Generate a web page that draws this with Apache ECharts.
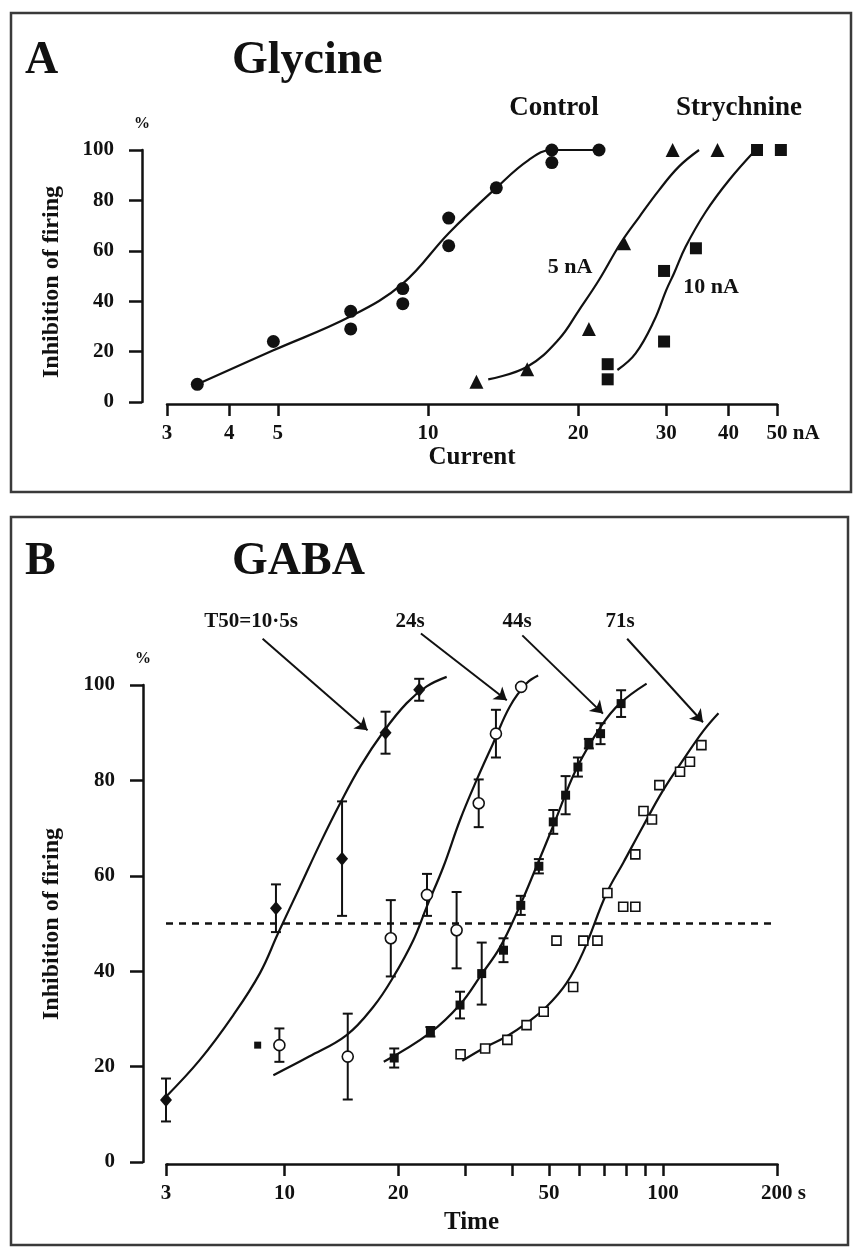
<!DOCTYPE html>
<html>
<head>
<meta charset="utf-8">
<style>
  html, body { margin: 0; padding: 0; background: #fff; }
  #chart { width: 855px; height: 1252px; }
</style>
<script src="https://cdn.jsdelivr.net/npm/echarts@6.0.0/dist/echarts.min.js"></script>
</head>
<body>
<div id="chart"></div>
<script>
const lg = Math.log10
const ink = '#111'
const serif = '"Liberation Serif", "Times New Roman", serif'

// ---- panel A: glycine, % inhibition vs ejecting current (nA) ----
const glyTicks = [3, 4, 5, 10, 20, 30, 40, 50]
const glyTickLabels = ['3', '4', '5', '10', '20', '30', '40', '50']
const controlPts = [[3.45, 7], [4.9, 24], [7, 36], [7, 29], [8.9, 45], [8.9, 39], [11, 73], [11, 62], [13.7, 85], [17.7, 100], [17.7, 95], [22, 100]]
const controlCurve = [[3.45, 7], [4.9, 20.5], [7, 34], [8.9, 47], [11, 67], [13.7, 85], [15.9, 96], [17.7, 100], [22, 100]]
const stry5Pts = [[12.5, 8], [15.8, 13], [21, 29], [24.7, 63], [30.9, 100], [38, 100]]
const stry5Curve = [[13.2, 9], [15.8, 14], [18.3, 25], [20.07, 36.5], [22, 48.4], [24.3, 63], [26.5, 73.5], [29, 84], [31.8, 93.4], [34.9, 100]]
const stry10Pts = [[22.9, 15], [22.9, 9], [29.7, 52], [29.7, 24], [34.4, 61], [45.6, 100], [50.9, 100]]
const stry10Curve = [[23.95, 12.7], [26.05, 19.3], [28.4, 32.5], [30, 44.4], [31.1, 51.1], [32.8, 61.6], [36, 75.5], [40.1, 88.1], [45.3, 100]]

// ---- panel B: GABA, % inhibition vs time (s); [t, mean, sem] ----
const gabaTicks = [3, 10, 20, 30, 40, 50, 60, 70, 80, 90, 100, 200]
const gabaLabelVals = [3, 10, 20, 50, 100, 200]
const gabaLabels = ['3', '10', '20', '50', '100', '200']
const gaba1Pts = [[3, 13, 4.5], [9.5, 53.2, 5], [14.2, 63.6, 12], [18.5, 90, 4.4], [22.7, 99, 2.3]]
const gaba1Curve = [[3, 13.7], [5.98, 21.4], [7.33, 30.8], [8.62, 39.6], [9.63, 48], [10.99, 57.7], [12.43, 66.8], [14.04, 75.2], [15.86, 82.9], [18.26, 90.2], [21.04, 96.2], [23.76, 99.7], [26.83, 101.7]]
const gaba2Pts = [[9.7, 24.5, 3.5], [14.7, 22.1, 9], [19.1, 46.9, 8], [23.8, 56, 4.4], [28.5, 48.6, 8], [32.6, 75.2, 5], [36.2, 89.8, 5], [42.2, 99.6, 0]]
const gaba2Curve = [[9.35, 18.2], [11.62, 22.1], [14.6, 26.6], [17.2, 32.6], [19.4, 38.8], [21.9, 46.5], [23.76, 53.5], [26.3, 61.9], [29.1, 71.7], [32.2, 80.1], [35.6, 87.8], [39.4, 95.5], [43.7, 100.4], [46.8, 102]]
const gaba3Pts = [[19.5, 21.8, 2], [24.3, 27.3, 1], [29.1, 32.9, 2.8], [33.2, 39.5, 6.5], [37.9, 44.4, 2.5], [42.1, 53.8, 2], [47, 62, 1.5], [51.3, 71.3, 2.5], [55.3, 76.9, 4], [59.6, 82.8, 2], [63.7, 87.7, 1], [68.4, 89.8, 2.2], [77.5, 96.1, 2.8]]
const gaba3Curve = [[18.3, 21], [24.2, 27], [29.1, 33], [33.2, 39.4], [37.1, 45], [41.5, 53], [46.3, 61.9], [51.3, 70.5], [59.1, 82.5], [68.8, 91.5], [77.1, 96.2], [90.5, 100.3]]
const gaba4Pts = [[29.2, 22.6], [33.9, 23.8], [38.8, 25.6], [43.6, 28.7], [48.4, 31.5], [57.9, 36.7], [52.3, 46.4], [61.6, 46.4], [67.1, 46.4], [71.3, 56.4], [78.5, 53.5], [84.5, 53.5], [84.5, 64.5], [88.8, 73.6], [93.5, 71.8], [97.8, 79], [110.9, 81.8], [117.8, 83.9], [126.3, 87.4]]
const gaba4Curve = [[29.5, 21.2], [34.2, 24.2], [38.6, 26.3], [43.6, 29.1], [49.3, 32.6], [55.6, 37.5], [61.5, 44], [70.9, 56.3], [78.6, 62.8], [88.7, 70.5], [100.2, 78], [113.5, 84.5], [127.8, 90.4], [140.1, 94.1]]
const strayPt = [[8.5, 24.5]]
// arrows from the T50 labels: [t0, p0, t1, p1]
const t50Arrows = [[8.76, 109.7, 16.58, 90.5], [22.94, 110.8, 38.67, 96.8], [42.5, 110.4, 69.4, 94], [80.4, 109.7, 127.5, 92.2]]

const font = (size) => `bold ${size}px ${serif}`

function tickFormatter(vals, labels, unit) {
  return (v) => {
    const i = vals.findIndex((t) => Math.abs(lg(t) - v) < 1e-6)
    if (i < 0) return ''
    if (i === vals.length - 1) return `{pad| }${labels[i]}{u| ${unit}}`
    return labels[i]
  }
}

function xAxisGene(gridIndex, ticks, labelVals, labels, unit, padW, extra) {
  return {
    type: 'value',
    gridIndex,
    min: lg(ticks[0]) - 1e-9,
    max: lg(ticks[ticks.length - 1]) + 1e-9,
    offset: 2,
    axisLine: { show: true, onZero: false, lineStyle: { color: ink, width: 2.5 } },
    axisTick: { show: true, customValues: ticks.map(lg), length: 12, lineStyle: { color: ink, width: 2.5 } },
    axisLabel: {
      customValues: labelVals.map(lg),
      formatter: tickFormatter(labelVals, labels, unit),
      margin: 19,
      color: ink,
      fontFamily: serif,
      fontWeight: 'bold',
      fontSize: 21,
      rich: {
        pad: { width: padW },
        u: { fontFamily: serif, fontWeight: 'bold', fontSize: 21, color: ink },
      },
    },
    splitLine: { show: false },
    nameLocation: 'middle',
    nameTextStyle: { color: ink, fontFamily: serif, fontWeight: 'bold', fontSize: 25 },
    ...extra,
  }
}

function yAxisGene(gridIndex, offset) {
  return {
    type: 'value',
    gridIndex,
    min: 0,
    max: 100,
    interval: 20,
    offset,
    name: '%',
    nameLocation: 'end',
    nameGap: 18,
    nameTextStyle: { color: ink, fontFamily: serif, fontWeight: 'bold', fontSize: 16, align: 'center', verticalAlign: 'bottom' },
    axisLine: { show: true, onZero: false, lineStyle: { color: ink, width: 2.5 } },
    axisTick: { show: true, length: 13, lineStyle: { color: ink, width: 2.5 } },
    axisLabel: { margin: 28, color: ink, fontFamily: serif, fontWeight: 'bold', fontSize: 21 },
    splitLine: { show: false },
  }
}

function curve(points, idx) {
  return {
    type: 'line',
    xAxisIndex: idx,
    yAxisIndex: idx,
    data: points.map((p) => [lg(p[0]), p[1]]),
    smooth: 0.4,
    showSymbol: false,
    symbol: 'none',
    clip: false,
    silent: true,
    z: 2,
    lineStyle: { color: ink, width: 2.2, opacity: 1 },
  }
}

function dots(points, idx, symbol, size, filled) {
  return {
    type: 'scatter',
    xAxisIndex: idx,
    yAxisIndex: idx,
    symbol,
    symbolSize: size,
    clip: false,
    silent: true,
    z: 4,
    itemStyle: filled
      ? { color: ink, opacity: 1 }
      : { color: '#fff', borderColor: ink, borderWidth: 1.6, opacity: 1 },
    data: points.map((p) => [lg(p[0]), p[1]]),
  }
}

function errorBars(points, idx) {
  return {
    type: 'custom',
    xAxisIndex: idx,
    yAxisIndex: idx,
    silent: true,
    clip: false,
    z: 3,
    encode: { x: 0, y: [1, 2] },
    data: points.filter((p) => p[2] > 0).map(([t, m, e]) => [lg(t), m - e, m + e]),
    renderItem: (params, api) => {
      const lo = api.coord([api.value(0), api.value(1)])
      const hi = api.coord([api.value(0), api.value(2)])
      const cap = 5
      const style = { stroke: ink, lineWidth: 2 }
      return {
        type: 'group',
        children: [
          { type: 'line', shape: { x1: lo[0], y1: lo[1], x2: hi[0], y2: hi[1] }, style },
          { type: 'line', shape: { x1: lo[0] - cap, y1: lo[1], x2: lo[0] + cap, y2: lo[1] }, style },
          { type: 'line', shape: { x1: hi[0] - cap, y1: hi[1], x2: hi[0] + cap, y2: hi[1] }, style },
        ],
      }
    },
  }
}

function text(str, x, y, size, align = 'left', rotation = 0) {
  return {
    type: 'text',
    x,
    y,
    rotation,
    silent: true,
    style: { text: str, font: font(size), fill: ink, textAlign: align, textVerticalAlign: 'middle' },
  }
}

function frame(x, y, w, h) {
  return {
    type: 'rect',
    silent: true,
    shape: { x, y, width: w, height: h },
    style: { fill: 'none', stroke: '#3a3a3a', lineWidth: 2.5 },
  }
}

const myChart = echarts.init(document.getElementById('chart'), null, { renderer: 'canvas' })

const gabaX = xAxisGene(1, gabaTicks, gabaLabelVals, gabaLabels, 's', 13, {
  name: 'Time',
  nameGap: 46,
  // the time axis jumps from the "3" tick straight on to the log decade
  breaks: [{ start: lg(3.02), end: lg(4.9), gap: 0 }],
  breakArea: { show: false, itemStyle: { opacity: 0, borderWidth: 0 } },
})

const option = {
  animation: false,
  backgroundColor: '#fff',
  grid: [
    { left: 167, top: 150, width: 610, height: 252, outerBoundsMode: 'none' },
    { left: 166, top: 685, width: 611, height: 477, outerBoundsMode: 'none' },
  ],
  xAxis: [
    xAxisGene(0, glyTicks, glyTicks, glyTickLabels, 'nA', 32, { name: 'Current', nameGap: 41 }),
    gabaX,
  ],
  yAxis: [yAxisGene(0, 25), yAxisGene(1, 23)],
  series: [
    curve(controlCurve, 0),
    curve(stry5Curve, 0),
    curve(stry10Curve, 0),
    dots(controlPts, 0, 'circle', 13, true),
    dots(stry5Pts, 0, 'triangle', 14, true),
    dots(stry10Pts, 0, 'rect', 12, true),

    {
      ...curve(gaba1Curve, 1),
      markLine: {
        silent: true,
        symbol: ['none', 'none'],
        label: { show: false },
        lineStyle: { color: ink, width: 2.5, type: [7, 6], opacity: 1 },
        data: [{ yAxis: 50 }],
      },
    },
    curve(gaba2Curve, 1),
    curve(gaba3Curve, 1),
    curve(gaba4Curve, 1),
    errorBars(gaba1Pts, 1),
    errorBars(gaba2Pts, 1),
    errorBars(gaba3Pts, 1),
    dots(gaba1Pts, 1, 'diamond', [12, 14], true),
    dots(gaba2Pts, 1, 'circle', 11, false),
    dots(gaba3Pts, 1, 'rect', 9, true),
    dots(gaba4Pts, 1, 'rect', 9, false),
    dots(strayPt, 1, 'rect', 7, true),
    {
      type: 'lines',
      coordinateSystem: 'cartesian2d',
      xAxisIndex: 1,
      yAxisIndex: 1,
      clip: false,
      silent: true,
      z: 5,
      symbol: ['none', 'arrow'],
      symbolSize: 12,
      lineStyle: { color: ink, width: 2, opacity: 1, curveness: 0 },
      data: t50Arrows.map((a) => ({ coords: [[lg(a[0]), a[1]], [lg(a[2]), a[3]]] })),
    },
  ],
  graphic: [
    frame(11, 13, 840, 479),
    frame(11, 517, 837, 728),
    text('A', 25, 61, 46),
    text('Glycine', 232, 61, 46),
    text('Control', 554, 108, 27, 'center'),
    text('Strychnine', 739, 108, 27, 'center'),
    text('5 nA', 570, 267, 22, 'center'),
    text('10 nA', 711, 287, 22, 'center'),
    text('Inhibition of firing', 52, 282, 24, 'center', Math.PI / 2),
    text('B', 25, 562, 46),
    text('GABA', 232, 562, 46),
    text('T50=10·5s', 251, 622, 21, 'center'),
    text('24s', 410, 622, 21, 'center'),
    text('44s', 517, 622, 21, 'center'),
    text('71s', 620, 622, 21, 'center'),
    text('Inhibition of firing', 52, 924, 24, 'center', Math.PI / 2),
  ],
}

myChart.setOption(option, true)
</script>
</body>
</html>
